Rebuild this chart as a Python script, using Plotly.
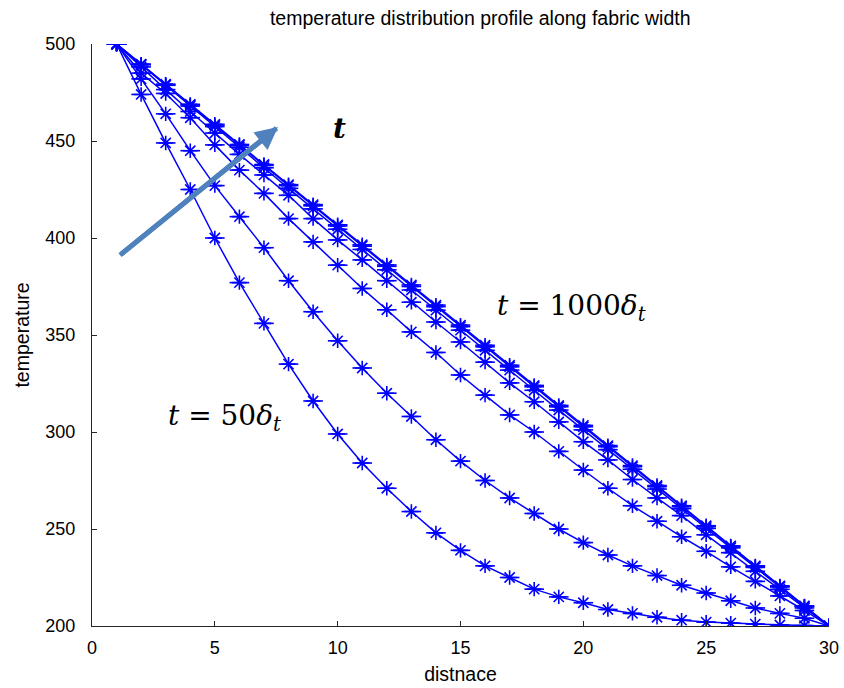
import plotly.graph_objects as go

distance = list(range(1, 31))

temp_t50 = [500, 474, 449, 425, 400, 377, 356, 335, 316, 299, 284, 271, 259, 248, 239,
            231, 225, 219, 215, 212, 208.5, 206.5, 204.5, 203, 202, 201.5, 201, 200.5, 200.2, 200]
temp_c2 = [500, 482, 464, 445, 427, 411, 395, 378, 362, 347, 333, 320, 308, 296, 285,
           275, 266, 258, 250, 243, 236.6, 231, 226, 221, 217, 213, 209.3, 206.5, 204, 200]
temp_c3 = [500, 485, 474.5, 462, 448, 435, 423, 410, 398, 386, 374, 363, 351.6, 341, 329.4,
           319, 308.8, 300, 290, 280.4, 271, 262, 254, 246, 238.5, 230.5, 223, 215.5, 208, 200]
temp_c4 = [500, 488.2, 476.5, 465.2, 454.1, 443.1, 432.5, 422.0, 410.0, 399.0, 388.7, 378.0,
           366.9, 356.7, 346.4, 336.0, 325.3, 315.6, 305.2, 295.0, 285.6, 275.5, 266.0, 256.9,
           247.0, 237.8, 228.2, 218.9, 209.3, 200]
temp_c5 = [500, 489.3, 478.7, 468.0, 457.4, 446.8, 436.2, 425.6, 415.0, 404.5, 394.1, 383.6,
           373.2, 362.8, 352.5, 342.1, 331.9, 321.5, 311.3, 301.1, 290.9, 280.8, 270.6, 260.5,
           250.3, 240.3, 230.2, 220.1, 210.0, 200]
temp_c6 = [500, 489.5, 479.0, 468.6, 458.2, 447.8, 437.4, 427.0, 416.6, 406.2, 395.8, 385.4,
           375.0, 364.6, 354.3, 343.9, 333.6, 323.3, 313.0, 302.7, 292.4, 282.1, 271.8, 261.5,
           251.2, 241.0, 230.7, 220.4, 210.2, 200]
temp_t1000 = [500, 489.6, 479.3, 468.9, 458.6, 448.2, 437.9, 427.5, 417.2, 406.8, 396.5, 386.1,
              375.8, 365.4, 355.1, 344.7, 334.4, 324.0, 313.7, 303.4, 293.0, 282.7, 272.4, 262.0,
              251.7, 241.3, 231.0, 220.7, 210.3, 200]

series = [temp_t50, temp_c2, temp_c3, temp_c4, temp_c5, temp_c6, temp_t1000]

x_ticks = [0, 5, 10, 15, 20, 25, 30]
y_ticks = [200, 250, 300, 350, 400, 450, 500]

BLUE = "rgb(0,0,255)"
fig = go.Figure()
for temps in series:
    fig.add_trace(go.Scatter(
        x=distance, y=temps, mode="lines+markers",
        line=dict(color=BLUE, width=1.5),
        marker=dict(symbol="asterisk-open", size=12, color=BLUE,
                    line=dict(color=BLUE, width=1.6)),
        showlegend=False, hoverinfo="skip"))
    fig.add_trace(go.Scatter(
        x=distance, y=temps, mode="markers",
        marker=dict(symbol="line-ew-open", size=14, color=BLUE,
                    line=dict(color=BLUE, width=1.6)),
        showlegend=False, hoverinfo="skip"))

tick_font = dict(family="Liberation Sans, Arial, sans-serif", size=18, color="#000000")
label_font = dict(family="Liberation Sans, Arial, sans-serif", size=19.5, color="#000000")

fig.update_layout(
    width=844, height=688,
    margin=dict(l=92, r=15, t=44, b=62),
    paper_bgcolor="white", plot_bgcolor="white",
    title=dict(text="temperature distribution profile along fabric width",
               x=0.569, xanchor="center", y=0.973, yanchor="middle",
               font=dict(family="Liberation Sans, Arial, sans-serif", size=19.5, color="#000000")),
    xaxis=dict(range=[0, 30], tickvals=x_ticks, ticks="inside", ticklen=5,
               tickcolor="#262626", showline=True, linecolor="#262626", linewidth=1,
               showgrid=False, zeroline=False, tickfont=tick_font, ticklabelstandoff=5,
               automargin=False,
               title=dict(text="distnace", font=label_font, standoff=10)),
    yaxis=dict(range=[200, 500], tickvals=y_ticks, ticks="inside", ticklen=5,
               tickcolor="#262626", showline=True, linecolor="#262626", linewidth=1,
               showgrid=False, zeroline=False, tickfont=tick_font, ticklabelstandoff=12,
               automargin=False,
               title=dict(text="temperature", font=label_font, standoff=10)),
)

eq_font = dict(family="DejaVu Serif, serif", size=28, color="#000000")
fig.add_annotation(x=1.14, y=391.2, ax=7.57, ay=457.2, xref="x", yref="y",
                   axref="x", ayref="y", text="", showarrow=True,
                   arrowhead=0, arrowwidth=5, arrowcolor="#4f81bd", standoff=0)
fig.add_annotation(x=7.57, y=457.2, ax=1.14, ay=391.2, xref="x", yref="y",
                   axref="x", ayref="y", text="", showarrow=True,
                   arrowhead=2, arrowsize=0.9, arrowwidth=5, arrowcolor="#4f81bd")
fig.add_annotation(x=10.09, y=456.7, xref="x", yref="y", text="<b><i>t</i></b>",
                   showarrow=False, font=eq_font)
fig.add_annotation(x=5.41, y=307.7, xref="x", yref="y",
                   text="<i>t</i> = 50<i>δ</i><sub><i>t</i></sub>",
                   showarrow=False, font=eq_font)
fig.add_annotation(x=19.5, y=364.4, xref="x", yref="y",
                   text="<i>t</i> = 1000<i>δ</i><sub><i>t</i></sub>",
                   showarrow=False, font=eq_font)

fig.write_html("out.html")
